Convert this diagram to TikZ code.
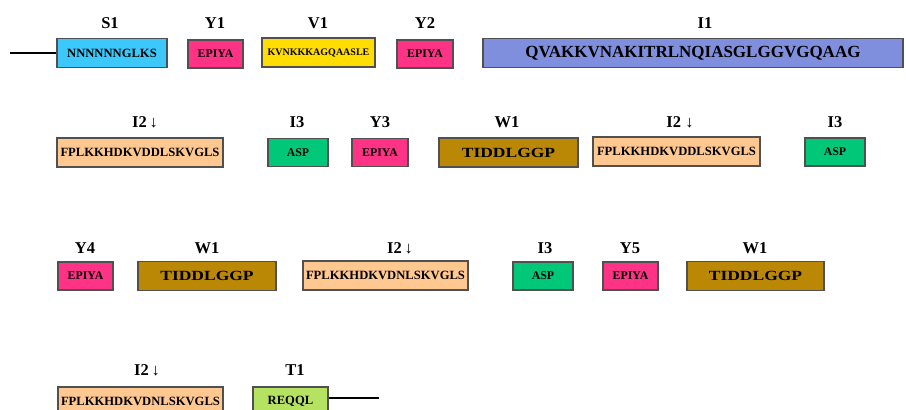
\documentclass[tikz,border=0pt]{standalone}
\usepackage{fontspec}
\setmainfont{Liberation Serif}
\usetikzlibrary{positioning}
\definecolor{DomBlue}{RGB}{60,200,250}
\definecolor{DomPink}{RGB}{255,51,133}
\definecolor{DomYellow}{RGB}{255,221,0}
\definecolor{DomPeri}{RGB}{127,143,221}
\definecolor{DomPeach}{RGB}{255,200,144}
\definecolor{DomGreen}{RGB}{0,200,120}
\definecolor{DomGold}{RGB}{186,136,4}
\definecolor{DomLime}{RGB}{181,227,97}
\definecolor{DomEdge}{RGB}{80,80,80}
\tikzset{
  dom/box/.style={
    draw=DomEdge,
    line width=1.4pt,
    align=center,
    text=black,
    inner sep=0pt,
    minimum height=29pt,
    font=\fontsize{12.6pt}{14pt}\selectfont\bfseries
  },
  dom/small/.style={dom/box, minimum height=28pt, font=\fontsize{11.8pt}{13pt}\selectfont\bfseries},
  dom/wide/.style={dom/box, font=\fontsize{14pt}{16pt}\addfontfeature{FakeStretch=1.25}\bfseries},
  dom/label/.style={font=\fontsize{16.5pt}{18pt}\selectfont\bfseries, inner sep=0pt},
  dom/line/.style={line width=2pt, draw=black}
}

\begin{document}
\begin{tikzpicture}[x=1pt,y=-1pt]
  \useasboundingbox (0,0) rectangle (906,410);
  % row 1
  \node[dom/box,fill=DomBlue,minimum width=110pt] (s1) at (112,53) {NNNNNNGLKS};
  \node[dom/small,fill=DomPink,minimum width=55pt] (y1) at (215.5,54) {EPIYA};
  \node[dom/box,fill=DomYellow,minimum width=113pt,font=\fontsize{10pt}{12pt}\selectfont\bfseries] (v1) at (318.5,52.5) {KVNKKKAGQAASLE};
  \node[dom/small,fill=DomPink,minimum width=56pt] (y2) at (425,54) {EPIYA};
  \node[dom/box,fill=DomPeri,minimum width=420pt,font=\fontsize{17pt}{19pt}\selectfont\bfseries] (i1) at (693,53) {QVAKKVNAKITRLNQIASGLGGVGQAAG};
  \coordinate (nterm) at (10,53);
  \draw[dom/line] (nterm) -- (s1.west);
  \node[dom/label] (s1lab) at (110,23) {S1};
  \node[dom/label] (y1lab) at (215,23) {Y1};
  \node[dom/label] (v1lab) at (318,23) {V1};
  \node[dom/label] (y2lab) at (425,23) {Y2};
  \node[dom/label] (i1lab) at (705,23) {I1};
  % row 2
  \node[dom/box,fill=DomPeach,minimum width=166pt] (i2a) at (140,152.5) {FPLKKHDKVDDLSKVGLS};
  \node[dom/small,fill=DomGreen,minimum width=60pt] (i3a) at (298,152.5) {ASP};
  \node[dom/small,fill=DomPink,minimum width=56pt] (y3) at (380,152.5) {EPIYA};
  \node[dom/wide,fill=DomGold,minimum width=139pt] (w1a) at (508.5,152.5) {TIDDLGGP};
  \node[dom/box,fill=DomPeach,minimum width=167pt] (i2b) at (676.5,151.5) {FPLKKHDKVDDLSKVGLS};
  \node[dom/small,fill=DomGreen,minimum width=60pt] (i3b) at (835,152) {ASP};
  \node[dom/label] (i2alab) at (145,122) {I2\,↓};
  \node[dom/label] (i3alab) at (297,122) {I3};
  \node[dom/label] (y3lab) at (380,122) {Y3};
  \node[dom/label] (w1alab) at (507,122) {W1};
  \node[dom/label] (i2blab) at (680,122) {I2 ↓};
  \node[dom/label] (i3blab) at (835,122) {I3};
  % row 3
  \node[dom/small,fill=DomPink,minimum width=55pt] (y4) at (85.5,276) {EPIYA};
  \node[dom/wide,fill=DomGold,minimum width=138pt] (w1b) at (207,276) {TIDDLGGP};
  \node[dom/box,fill=DomPeach,minimum width=165pt] (i2c) at (385.5,275.5) {FPLKKHDKVDNLSKVGLS};
  \node[dom/small,fill=DomGreen,minimum width=60pt] (i3c) at (543,276) {ASP};
  \node[dom/small,fill=DomPink,minimum width=55pt] (y5) at (630.5,276) {EPIYA};
  \node[dom/wide,fill=DomGold,minimum width=137pt] (w1c) at (755.5,276) {TIDDLGGP};
  \node[dom/label] (y4lab) at (85,248) {Y4};
  \node[dom/label] (w1blab) at (207,248) {W1};
  \node[dom/label] (i2clab) at (400,248) {I2\,↓};
  \node[dom/label] (i3clab) at (545,248) {I3};
  \node[dom/label] (y5lab) at (630,248) {Y5};
  \node[dom/label] (w1clab) at (755,248) {W1};
  % row 4
  \node[dom/box,fill=DomPeach,minimum width=165pt] (i2d) at (140.5,401.5) {FPLKKHDKVDNLSKVGLS};
  \node[dom/box,fill=DomLime,minimum width=75pt] (t1) at (290.5,401.5) {REQQL};
  \coordinate (cterm) at (379,398);
  \draw[dom/line] (t1.east |- cterm) -- (cterm);
  \node[dom/label] (i2dlab) at (147,370) {I2\,↓};
  \node[dom/label] (t1lab) at (295,370) {T1};
\end{tikzpicture}
\end{document}
